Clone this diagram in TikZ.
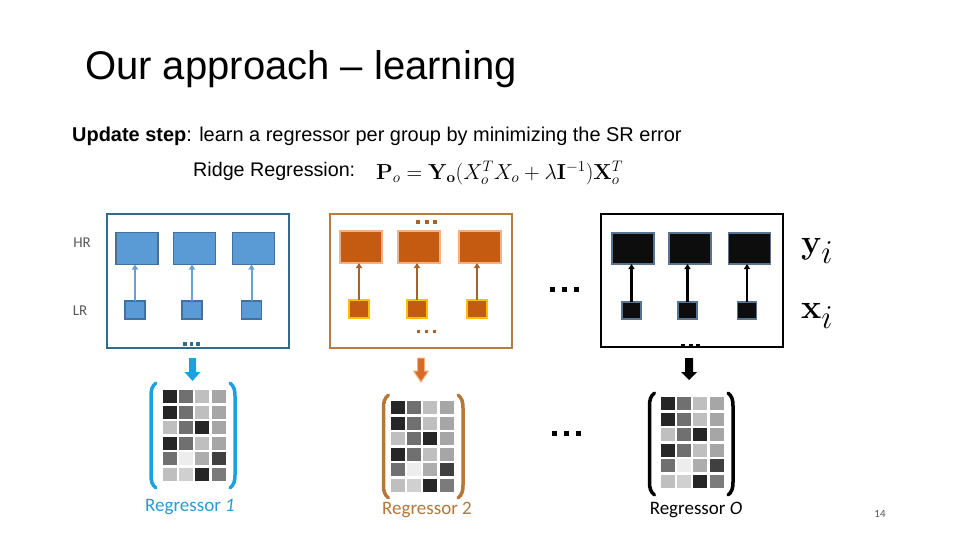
\RequirePackage{fix-cm}
\documentclass[tikz,border=0pt]{standalone}
\usepackage[no-math]{fontspec}
\usepackage{graphicx}
\setmainfont{Liberation Sans}
\newfontfamily\carl{Carlito}
\usetikzlibrary{arrows.meta}
\definecolor{bfill}{HTML}{5B9BD5}
\definecolor{bedge}{HTML}{41719C}
\definecolor{bframe}{HTML}{2E6C8C}
\definecolor{barrow}{HTML}{6A9FD2}
\definecolor{bbig}{HTML}{1BA1E2}
\definecolor{blab}{HTML}{2A9AD6}
\definecolor{ofill}{HTML}{C55A11}
\definecolor{oedge}{HTML}{F4B183}
\definecolor{ogold}{HTML}{FFC000}
\definecolor{oframe}{HTML}{B87C40}
\definecolor{oarrow}{HTML}{A5622A}
\definecolor{obig}{HTML}{D86B24}
\definecolor{olab}{HTML}{B5773A}
\definecolor{kfill}{HTML}{0D0D0D}
\definecolor{kedge}{HTML}{5A7390}
\definecolor{gtext}{HTML}{595959}
\definecolor{ga}{HTML}{262626}
\definecolor{gb}{HTML}{707070}
\definecolor{gc}{HTML}{BFBFBF}
\definecolor{gd}{HTML}{A6A6A6}
\definecolor{ge}{HTML}{EDEDED}
\definecolor{gf}{HTML}{ADADAD}
\definecolor{gg}{HTML}{404040}
\definecolor{gh}{HTML}{D0D0D0}
\definecolor{gi}{HTML}{7B7B7B}
\tikzset{
  hrbox/.style={rectangle,inner sep=0pt,outer sep=0pt,minimum width=42pt,minimum height=32pt,line width=1.5pt},
  lrbox/.style={rectangle,inner sep=0pt,outer sep=0pt,minimum width=20pt,minimum height=18pt,line width=1.5pt},
  uparrow/.style={line width=2pt,-{Triangle[width=6pt,length=5pt]}},
  frame/.style={line width=2pt},
  bracket/.style={line width=3.5pt,line cap=round},
  sidelab/.style={font=\carl\fontsize{15}{18}\selectfont,text=gtext,inner sep=0pt},
  reglab/.style={font=\carl\fontsize{19}{22}\selectfont,inner sep=0pt}
}
\newcommand\regmat[2]{%
  \foreach \row [count=\r from 0] in {{ga,gb,gc,gd},{ga,gb,gc,gd},{gc,gb,ga,gd},{ga,gb,gc,gd},{gb,ge,gf,gg},{gc,gh,ga,gi}}{%
    \foreach \c [count=\k from 0] in \row {%
      \fill[\c] (#1+\k*16.2,#2+\r*15.6) rectangle ++(14,13);
    }
  }%
}
\newcommand\brackets[5]{%
  \draw[bracket,#5] (#1+5,#2) .. controls (#1+1,#2+3) and (#1,#2+7) .. (#1,#2+13) -- (#1,#4-13) .. controls (#1,#4-7) and (#1+1,#4-3) .. (#1+5,#4);
  \draw[bracket,#5] (#3-5,#2) .. controls (#3-1,#2+3) and (#3,#2+7) .. (#3,#2+13) -- (#3,#4-13) .. controls (#3,#4-7) and (#3-1,#4-3) .. (#3-5,#4);
}
\newcommand\sqdots[5]{% x1, y, gap, size, color
  \foreach \i in {0,1,2} {\fill[#5] (#1+\i*#3,#2) rectangle ++(#4,#4);}
}
\newcommand\bigsub{\scalebox{1.4}{$\scriptstyle i$}}
\begin{document}
\begin{tikzpicture}[x=1pt,y=-1pt]
\useasboundingbox[fill=white] (0,0) rectangle (960,540);

% title and text
\node[anchor=base west,inner sep=0pt,font=\fontsize{40}{48}\selectfont] (title) at (85,80) {Our approach – learning};
\node[anchor=base west,inner sep=0pt,font=\fontsize{19.95}{24}\selectfont] (update) at (72,142) {\textbf{Update step}: learn a regressor per group by minimizing the SR error};
\node[anchor=base west,inner sep=0pt,font=\fontsize{19.7}{24}\selectfont] (ridge) at (193,177) {Ridge Regression:};
\node[anchor=west,inner sep=0pt,font=\fontsize{21.7}{26}\selectfont] (formula) at (376,173) {$\mathbf{P}_o = \mathbf{Y}_{\mathbf{o}}(X_o^T X_o + \lambda\mathbf{I}^{-1})\mathbf{X}_o^T$};

% side labels
\node[sidelab] (hr) at (82,243) {HR};
\node[sidelab] (lr) at (80,311) {LR};

% ---- blue group
\draw[frame,bframe] (107,214) rectangle (289,348);
\foreach \n/\x in {1/137,2/194.5,3/253.5} {
  \node[hrbox,fill=bfill,draw=bedge] (bh\n) at (\x,248.5) {};
}
\foreach \n/\x in {1/135,2/192,3/251.5} {
  \node[lrbox,fill=bfill,draw=bedge] (bl\n) at (\x,310) {};
  \draw[uparrow,barrow] (bl\n.north) -- (bl\n.north |- bh\n.south);
}
\sqdots{183}{342}{6.5}{3.5}{bframe}
\fill[bbig] (189,358) -- (196,358) -- (196,372) -- (200.5,372) -- (192.5,381) -- (184.5,372) -- (189,372) -- cycle;

% ---- orange group
\draw[frame,oframe] (330,214) rectangle (512,348);
\foreach \n/\x in {1/361,2/419,3/479.5} {
  \node[hrbox,fill=ofill,draw=oedge,line width=2pt] (oh\n) at (\x,247) {};
}
\foreach \n/\x in {1/359,2/417,3/477} {
  \node[lrbox,fill=ofill,draw=ogold,line width=2pt] (ol\n) at (\x,309) {};
  \draw[uparrow,oarrow] (ol\n.north) -- (ol\n.north |- oh\n.south);
}
\sqdots{416}{220}{8.5}{4}{oarrow}
\sqdots{417}{330}{8}{3.2}{oarrow}
\fill[obig,draw=oedge,line width=1pt] (417.5,358) -- (424.5,358) -- (424.5,371) -- (428.5,371) -- (421,382) -- (413.5,371) -- (417.5,371) -- cycle;

% middle dots
\sqdots{550}{287}{12}{5}{black}
\sqdots{552}{431}{12}{5}{black}

% ---- black group
\draw[frame,black] (601,214) rectangle (783,347);
\foreach \n/\x in {1/633,2/690,3/749.5} {
  \node[hrbox,fill=kfill,draw=kedge,minimum height=31pt] (kh\n) at (\x,248.5) {};
}
\foreach \n/\x in {1/631.5,2/687.5,3/747} {
  \node[lrbox,fill=kfill,draw=kedge,minimum width=19pt,minimum height=17pt] (kl\n) at (\x,310.5) {};
  \draw[uparrow,black,line width=2.5pt] (kl\n.north) -- (kl\n.north |- kh\n.south);
}
\sqdots{681}{344}{7.5}{4}{black}
\fill[black] (685,358) -- (693,358) -- (693,372) -- (697,372) -- (689,380) -- (681,372) -- (685,372) -- cycle;

\node[inner sep=0pt,font=\fontsize{34}{40}\selectfont] (yi) at (817,251) {$\mathbf{y}_{\bigsub}$};
\node[inner sep=0pt,font=\fontsize{34}{40}\selectfont] (xi) at (817,316) {$\mathbf{x}_{\bigsub}$};

% ---- matrices
\regmat{163}{390}
\brackets{151}{383}{235}{488}{bbig}
\node[reglab,text=blab] (r1) at (190,507) {Regressor \textit{1}};

\regmat{391}{401}
\brackets{383.5}{395}{463}{498}{olab}
\node[reglab,text=olab] (r2) at (427,510) {Regressor 2};

\regmat{661}{397}
\brackets{649.5}{393}{733}{495}{black}
\node[reglab,text=black] (r3) at (696,510) {Regressor \textit{O}};

\node[inner sep=0pt,font=\carl\fontsize{11}{13}\selectfont,text=gtext] (page) at (880,514) {14};
\end{tikzpicture}
\end{document}
